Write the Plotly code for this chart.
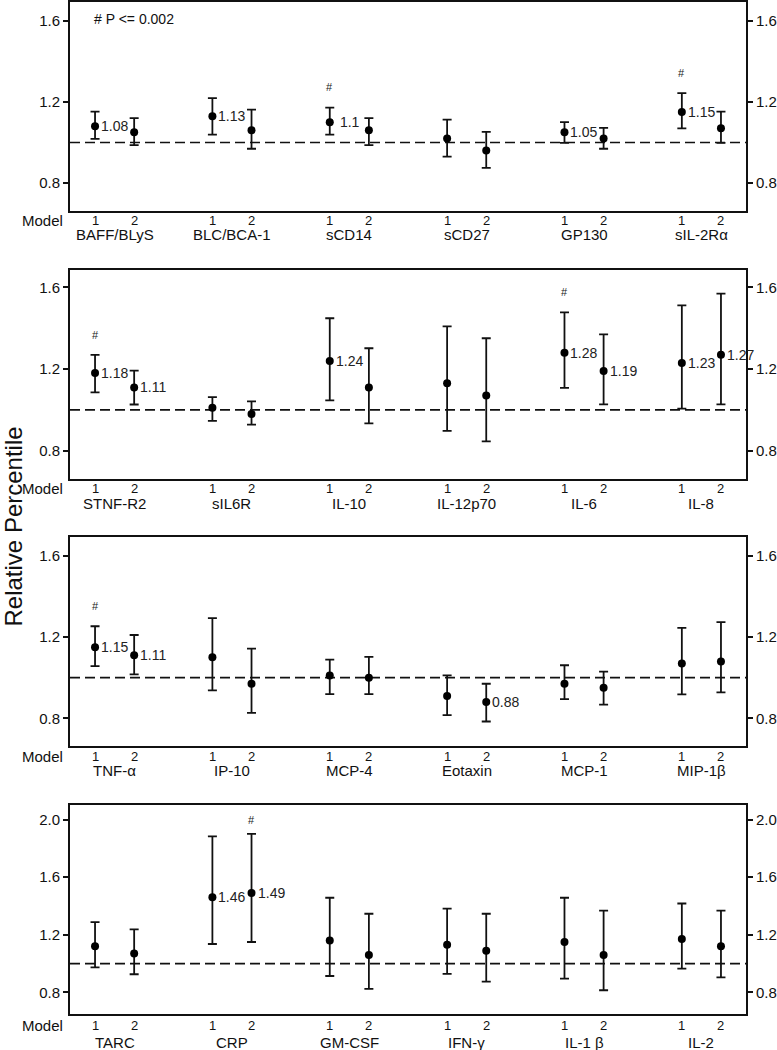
import plotly.graph_objects as go

FONT = "Liberation Sans, Arial, Helvetica, sans-serif"

# ---------------- data ----------------
model_labels = ["1", "2"]
positions = [1, 2, 4, 5, 7, 8, 10, 11, 13, 14, 16, 17]
ref_value = 1.0

p1_names = ["BAFF/BLyS", "BLC/BCA-1", "sCD14", "sCD27", "GP130", "sIL-2Rα"]
p1_est = [1.08, 1.05, 1.13, 1.06, 1.10, 1.06, 1.02, 0.96, 1.05, 1.02, 1.15, 1.07]
p1_lo = [1.018, 0.987, 1.039, 0.969, 1.039, 0.987, 0.930, 0.875, 0.998, 0.969, 1.070, 0.998]
p1_hi = [1.152, 1.120, 1.219, 1.162, 1.172, 1.120, 1.113, 1.052, 1.100, 1.072, 1.243, 1.152]
p1_lab = [1, 0, 1, 0, 1, 0, 0, 0, 1, 0, 1, 0]
p1_sig = [0, 0, 0, 0, 1, 0, 0, 0, 0, 0, 1, 0]

p2_names = ["STNF-R2", "sIL6R", "IL-10", "IL-12p70", "IL-6", "IL-8"]
p2_est = [1.18, 1.11, 1.01, 0.98, 1.24, 1.11, 1.13, 1.07, 1.28, 1.19, 1.23, 1.27]
p2_lo = [1.086, 1.026, 0.946, 0.927, 1.046, 0.934, 0.897, 0.845, 1.108, 1.027, 1.006, 1.027]
p2_hi = [1.269, 1.192, 1.062, 1.041, 1.449, 1.302, 1.409, 1.351, 1.478, 1.370, 1.512, 1.570]
p2_lab = [1, 1, 0, 0, 1, 0, 0, 0, 1, 1, 1, 1]
p2_sig = [1, 0, 0, 0, 0, 0, 0, 0, 1, 0, 0, 0]

p3_names = ["TNF-α", "IP-10", "MCP-4", "Eotaxin", "MCP-1", "MIP-1β"]
p3_est = [1.15, 1.11, 1.10, 0.97, 1.01, 1.00, 0.91, 0.88, 0.97, 0.95, 1.07, 1.08]
p3_lo = [1.057, 1.016, 0.937, 0.827, 0.919, 0.919, 0.815, 0.784, 0.894, 0.867, 0.918, 0.927]
p3_hi = [1.253, 1.210, 1.293, 1.143, 1.089, 1.102, 1.011, 0.970, 1.061, 1.030, 1.245, 1.273]
p3_lab = [1, 1, 0, 0, 0, 0, 0, 1, 0, 0, 0, 0]
p3_sig = [1, 0, 0, 0, 0, 0, 0, 0, 0, 0, 0, 0]

p4_names = ["TARC", "CRP", "GM-CSF", "IFN-γ", "IL-1 β", "IL-2"]
p4_est = [1.12, 1.07, 1.46, 1.49, 1.16, 1.06, 1.13, 1.09, 1.15, 1.06, 1.17, 1.12]
p4_lo = [0.974, 0.926, 1.136, 1.150, 0.914, 0.824, 0.928, 0.875, 0.896, 0.815, 0.965, 0.905]
p4_hi = [1.288, 1.237, 1.883, 1.900, 1.457, 1.346, 1.381, 1.346, 1.457, 1.367, 1.417, 1.367]
p4_lab = [0, 0, 1, 1, 0, 0, 0, 0, 0, 0, 0, 0]
p4_sig = [0, 0, 0, 1, 0, 0, 0, 0, 0, 0, 0, 0]

ytick_small = [0.8, 1.2, 1.6]
ytick_large = [0.8, 1.2, 1.6, 2.0]

panels = [
    dict(names=p1_names, est=p1_est, lo=p1_lo, hi=p1_hi, lab=p1_lab, sig=p1_sig,
         dom=[0.8, 0.99905], rng=[0.663, 1.693], ticks=ytick_small, off=(10, 24)),
    dict(names=p2_names, est=p2_est, lo=p2_lo, hi=p2_hi, lab=p2_lab, sig=p2_sig,
         dom=[0.54476, 0.74381], rng=[0.663, 1.687], ticks=ytick_small, off=(10, 24.5)),
    dict(names=p3_names, est=p3_est, lo=p3_lo, hi=p3_hi, lab=p3_lab, sig=p3_sig,
         dom=[0.28952, 0.48857], rng=[0.662, 1.690], ticks=ytick_small, off=(10, 24)),
    dict(names=p4_names, est=p4_est, lo=p4_lo, hi=p4_hi, lab=p4_lab, sig=p4_sig,
         dom=[0.03429, 0.23333], rng=[0.650, 2.099], ticks=ytick_large, off=(11.5, 28.5)),
]

fig = go.Figure()
annotations = []
shapes = []
layout = {}

for i, p in enumerate(panels, start=1):
    xs = "" if i == 1 else str(i)
    xname, yname = "x" + xs, "y" + xs
    yr_idx = i + 4
    yr_name = "y" + str(yr_idx)

    est, lo, hi = p["est"], p["lo"], p["hi"]
    plus = [h - e for h, e in zip(hi, est)]
    minus = [e - l for e, l in zip(est, lo)]

    fig.add_trace(go.Scatter(
        x=positions, y=est, mode="markers", xaxis=xname, yaxis=yname,
        marker=dict(color="black", size=8, symbol="circle"),
        error_y=dict(type="data", symmetric=False, array=plus, arrayminus=minus,
                     color="#111111", thickness=1.8, width=4.5),
        showlegend=False, hoverinfo="x+y"))
    # invisible trace to activate the right-hand axis
    fig.add_trace(go.Scatter(
        x=positions, y=est, mode="markers", xaxis=xname, yaxis=yr_name,
        marker=dict(opacity=0), showlegend=False, hoverinfo="skip"))

    layout["xaxis" + xs] = dict(
        domain=[0, 1], range=[0.36, 17.64], anchor=yname,
        showline=True, linewidth=2, linecolor="#111111", mirror=True,
        showticklabels=False, ticks="", showgrid=False, zeroline=False)
    layout["yaxis" + xs] = dict(
        domain=p["dom"], range=p["rng"], anchor=xname,
        tickvals=p["ticks"], tickformat=".1f", ticks="outside", ticklen=5,
        tickwidth=1.5, tickcolor="#111111",
        showline=True, linewidth=2, linecolor="#111111",
        tickfont=dict(family=FONT, size=15, color="#111111"),
        showgrid=False, zeroline=False)
    layout["yaxis" + str(yr_idx)] = dict(
        overlaying=yname, side="right", anchor=xname, range=p["rng"],
        tickvals=p["ticks"], tickformat=".1f", ticks="outside", ticklen=5,
        tickwidth=1.5, tickcolor="#111111",
        showline=True, linewidth=2, linecolor="#111111",
        tickfont=dict(family=FONT, size=15, color="#111111"),
        showgrid=False, zeroline=False)

    shapes.append(dict(type="line", xref=xname + " domain", x0=0, x1=1,
                       yref=yname, y0=ref_value, y1=ref_value,
                       line=dict(color="#111111", width=1.6, dash="10px,5px"),
                       layer="below"))

    off_model, off_cat = p["off"]
    # model numbers
    for k, xv in enumerate(positions):
        annotations.append(dict(
            x=xv, xref=xname, y=0, yref=yname + " domain", yshift=-off_model,
            text=model_labels[k % 2], showarrow=False, yanchor="middle",
            xanchor="center", font=dict(family=FONT, size=13, color="#111111")))
    # category names
    for g, name in enumerate(p["names"]):
        cx = (positions[2 * g] + positions[2 * g + 1]) / 2
        annotations.append(dict(
            x=cx, xref=xname, y=0, yref=yname + " domain", yshift=-off_cat,
            text=name, showarrow=False, yanchor="middle", xanchor="center",
            font=dict(family=FONT, size=15, color="#111111")))
    # "Model"
    annotations.append(dict(
        x=0, xref="paper", xshift=-5, y=0, yref=yname + " domain", yshift=-off_model,
        text="Model", showarrow=False, xanchor="right", yanchor="middle",
        font=dict(family=FONT, size=15, color="#111111")))
    # value labels
    for k, xv in enumerate(positions):
        if p["lab"][k]:
            txt = f"{est[k]:g}"
            if txt == "1.1":
                txt = " 1.1"
            annotations.append(dict(
                x=xv, xref=xname, y=est[k], yref=yname, xshift=4,
                text=txt, showarrow=False, xanchor="left", yanchor="middle",
                font=dict(family=FONT, size=14, color="#222222")))
        if p["sig"][k]:
            annotations.append(dict(
                x=xv, xref=xname, y=hi[k] + 0.1, yref=yname,
                text="#", showarrow=False, xanchor="center", yanchor="middle",
                font=dict(family=FONT, size=11, color="#222222")))

annotations.append(dict(
    x=0.032, xref="x domain", y=0.92, yref="y domain", text="# P <= 0.002",
    showarrow=False, xanchor="left", yanchor="middle",
    font=dict(family=FONT, size=14, color="#111111")))

annotations.append(dict(
    x=0, xref="paper", xshift=-57, y=1 - 526 / 1050, yref="paper",
    text="Relative Percentile", textangle=-90, showarrow=False,
    xanchor="center", yanchor="middle",
    font=dict(family=FONT, size=24, color="#111111")))

fig.update_layout(
    width=777, height=1050,
    margin=dict(l=70, r=28, t=0, b=0, pad=0),
    paper_bgcolor="white", plot_bgcolor="white",
    font=dict(family=FONT, color="#111111"),
    showlegend=False,
    annotations=annotations, shapes=shapes,
    **layout)

fig.write_html("out.html",
               config={"displayModeBar": False},
               post_script="document.body.style.margin='0';document.body.style.padding='0';")
